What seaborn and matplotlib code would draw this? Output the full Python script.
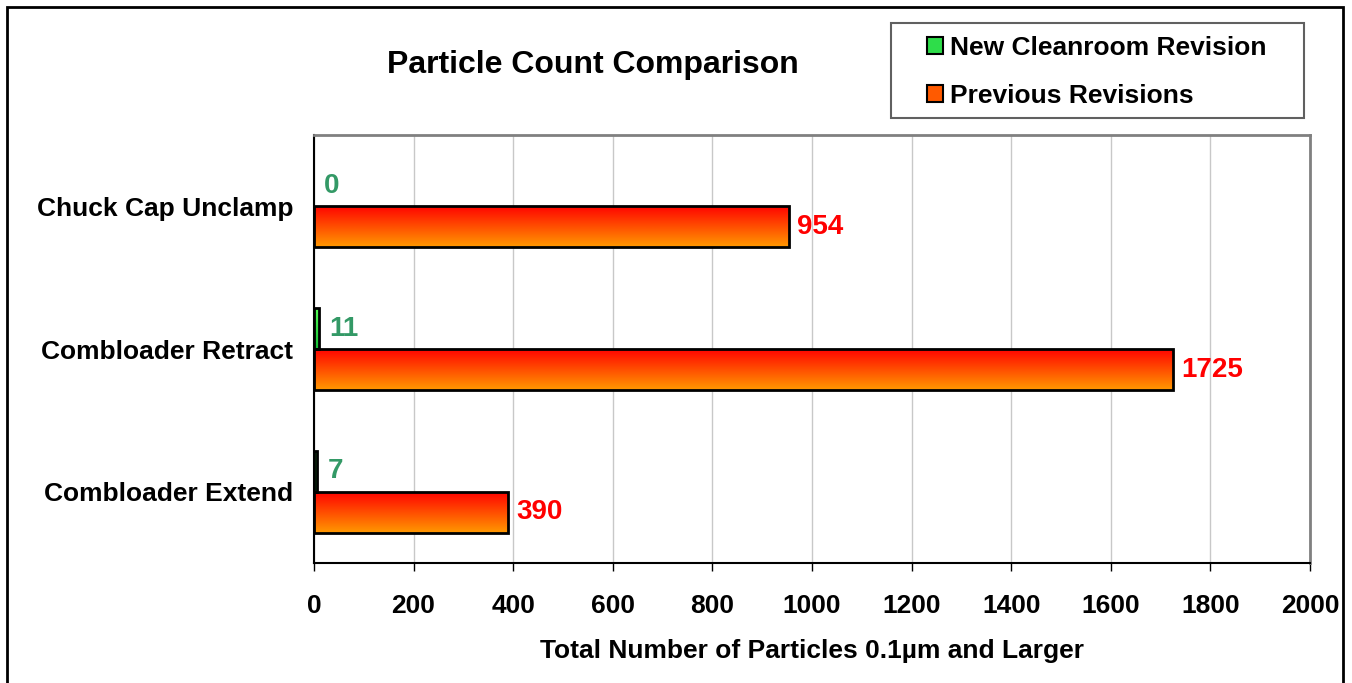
import numpy as np
import pandas as pd
import matplotlib
matplotlib.use("Agg")
import matplotlib.pyplot as plt
import matplotlib.colors as mcolors
from matplotlib.patches import Patch, Rectangle
import seaborn as sns

categories = ["Chuck Cap Unclamp", "Combloader Retract", "Combloader Extend"]
series = ["New Cleanroom Revision", "Previous Revisions"]
new_cleanroom = [0, 11, 7]
previous = [954, 1725, 390]
x_ticks = [0, 200, 400, 600, 800, 1000, 1200, 1400, 1600, 1800, 2000]

df = pd.DataFrame({
    "category": categories * 2,
    "series": [series[0]] * 3 + [series[1]] * 3,
    "value": new_cleanroom + previous,
})

sns.set_style("white")
plt.rcParams["font.family"] = ["Liberation Sans", "DejaVu Sans"]
plt.rcParams["font.weight"] = "bold"
plt.rcParams["text.color"] = "black"
plt.rcParams["axes.labelcolor"] = "black"
plt.rcParams["xtick.color"] = "black"
plt.rcParams["ytick.color"] = "black"

fig = plt.figure(figsize=(13.52, 6.83), dpi=100)
ax = fig.add_axes([0.2322, 0.1757, 0.7367, 0.6266])

palette = {series[0]: "#22cc44", series[1]: "#ff5500"}
sns.barplot(data=df, y="category", x="value", hue="series", order=categories,
            hue_order=series, palette=palette, orient="h", width=0.575,
            edgecolor="black", linewidth=2, legend=False, ax=ax, zorder=3)

# gradient fills, top to bottom
grads = {
    series[0]: mcolors.LinearSegmentedColormap.from_list("g", ["#55ff55", "#11bb33"]),
    series[1]: mcolors.LinearSegmentedColormap.from_list("r", ["#ff0000", "#ff9900"]),
}
grad = np.linspace(0, 1, 256).reshape(-1, 1)
bars = [p for p in ax.patches if isinstance(p, Rectangle)]
for i, p in enumerate(bars):
    s = series[i // 3]
    w, h = p.get_width(), p.get_height()
    if w <= 0:
        p.set_visible(False)
        continue
    x0, y0 = p.get_x(), p.get_y()
    im = ax.imshow(grad, cmap=grads[s], aspect="auto", zorder=2.5,
                   extent=[x0, x0 + w, y0 + h, y0], interpolation="bicubic")
    im.set_clip_path(p)
    p.set_facecolor("none")

ax.set_xlim(0, 2000)
ax.set_ylim(2.5, -0.5)
ax.set_xticks(x_ticks)
ax.set_xticklabels([str(t) for t in x_ticks])
ax.set_yticks([-0.5, 0.5, 1.5, 2.5], minor=True)
ax.tick_params(axis="y", which="major", length=0, pad=15, labelsize=19)
ax.tick_params(axis="y", which="minor", length=7, width=1, color="black", direction="out")
ax.tick_params(axis="x", which="major", length=6, width=1, color="black",
               direction="out", pad=16, labelsize=19, bottom=True)
for lab in ax.get_xticklabels() + ax.get_yticklabels():
    lab.set_fontweight("bold")

ax.grid(axis="x", color="#c8c8c8", linewidth=1, zorder=0)
ax.set_axisbelow(True)
for side in ["top", "right"]:
    ax.spines[side].set_color("#808080")
    ax.spines[side].set_linewidth(2)
for side in ["left", "bottom"]:
    ax.spines[side].set_color("black")
    ax.spines[side].set_linewidth(1.5)

ax.set_ylabel("")
ax.set_xlabel("Total Number of Particles 0.1\u00b5m and Larger", fontsize=19,
              fontweight="bold", labelpad=15.5)

# value labels
off = 0.575 / 4
for i, v in enumerate(new_cleanroom):
    ax.text(v + 20, i - off, str(v), color="#339966", fontsize=20,
            fontweight="bold", va="center", ha="left")
for i, v in enumerate(previous):
    ax.text(v + 16, i + off, str(v), color="#ff0000", fontsize=20,
            fontweight="bold", va="center", ha="left")

fig.text(0.4386, 0.905, "Particle Count Comparison", fontsize=23,
         fontweight="bold", ha="center", va="center")

handles = [Patch(facecolor="#2edd4a", edgecolor="black", linewidth=1.5),
           Patch(facecolor="#ff5a00", edgecolor="black", linewidth=1.5)]
leg = fig.legend(handles, series, loc="center left",
                 bbox_to_anchor=(927 / 1352, 1 - 72 / 683),
                 frameon=False, handlelength=0.62, handleheight=0.62,
                 handletextpad=0.27, borderpad=0, borderaxespad=0, labelspacing=0.9,
                 prop={"weight": "bold", "size": 19})
fig.patches.append(Rectangle((891 / 1352, 1 - 118 / 683), 413 / 1352, 95 / 683,
                             transform=fig.transFigure, fill=False,
                             edgecolor="#606060", linewidth=1.5))

# outer frame
fig.patches.append(Rectangle((7 / 1352, -0.05), 1336 / 1352, 1.05 - 7 / 683,
                             transform=fig.transFigure, fill=False,
                             edgecolor="black", linewidth=2))

fig.savefig("out.png", dpi=100)
